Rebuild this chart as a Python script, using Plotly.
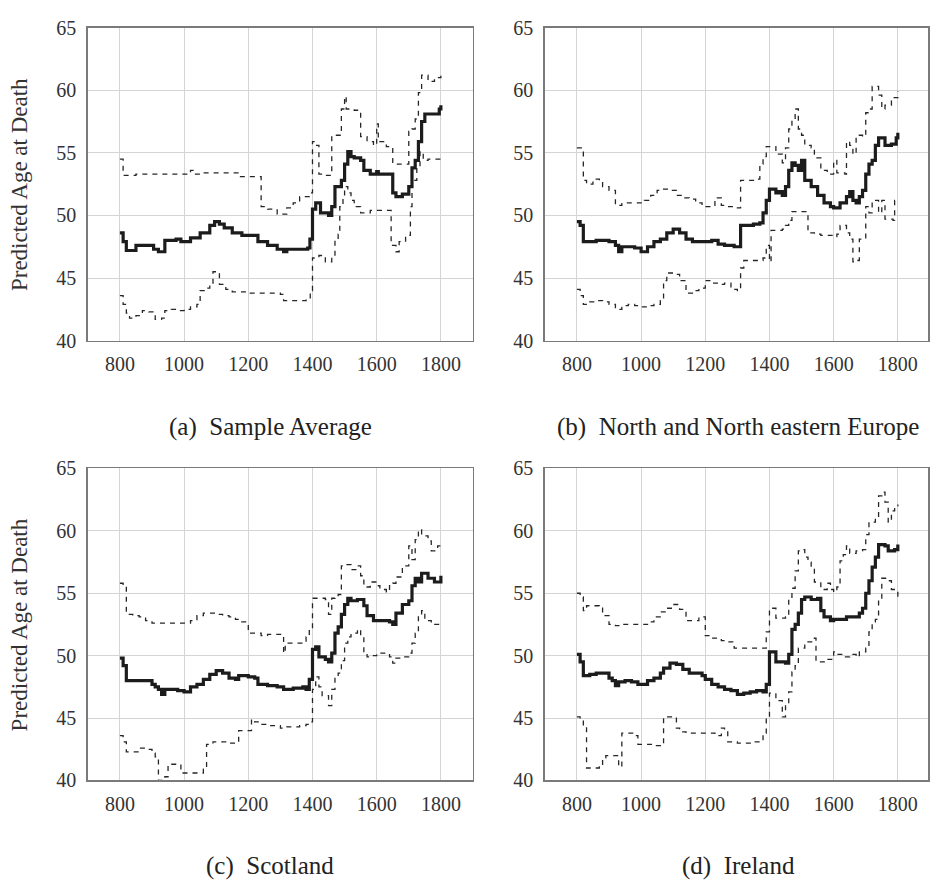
import plotly.graph_objects as go

# ---------------- data (year, predicted age at death) ----------------
panel_titles = ["(a)  Sample Average", "(b)  North and North eastern Europe",
                "(c)  Scotland", "(d)  Ireland"]
x_ticks = [800, 1000, 1200, 1400, 1600, 1800]
y_ticks = [40, 45, 50, 55, 60, 65]
y_label = "Predicted Age at Death"

a_mean = [(800,48.6),(810,47.9),(820,47.2),(850,47.6),(905,47.3),(920,47.1),(940,48.0),(975,48.1),(990,47.9),
          (1020,48.2),(1050,48.6),(1080,49.2),(1095,49.5),(1110,49.3),(1125,49.0),(1150,48.6),(1180,48.4),(1220,48.4),
          (1230,47.9),(1260,47.6),(1290,47.3),(1310,47.1),(1320,47.3),(1385,47.4),(1392,48.1),(1400,50.5),(1410,51.0),
          (1425,50.2),(1450,50.0),(1460,50.7),(1470,52.3),(1490,52.8),(1500,54.1),(1510,55.1),(1520,54.7),(1530,54.6),
          (1550,54.4),(1560,53.6),(1580,53.3),(1600,53.5),(1605,53.3),(1645,53.3),(1650,51.8),(1660,51.5),(1680,51.7),
          (1700,52.3),(1710,53.8),(1720,54.4),(1730,55.9),(1740,57.5),(1750,58.1),(1785,58.1),(1795,58.5),(1800,58.8)]
a_upper = [(800,54.5),(810,53.2),(850,53.3),(1020,53.6),(1030,53.3),(1050,53.4),(1150,53.4),(1170,53.1),(1235,53.1),
           (1240,50.7),(1260,50.5),(1290,50.1),(1320,50.6),(1340,51.0),(1360,51.5),(1390,51.8),(1400,55.9),(1410,55.6),
           (1420,53.3),(1440,53.2),(1460,56.4),(1480,56.4),(1490,58.5),(1500,59.5),(1505,58.5),(1530,58.4),(1550,56.3),
           (1570,55.9),(1590,55.6),(1600,57.3),(1605,55.9),(1630,55.5),(1645,55.4),(1650,54.1),(1695,54.1),(1700,56.7),
           (1710,56.9),(1720,57.7),(1730,59.8),(1740,61.2),(1760,60.7),(1780,61.0),(1800,61.5)]
a_lower = [(800,43.6),(810,42.9),(820,42.2),(830,41.8),(850,42.0),(870,42.4),(890,42.3),(910,41.7),(930,41.8),
           (940,42.4),(960,42.5),(980,42.4),(1000,42.5),(1020,42.7),(1040,42.9),(1050,44.0),(1070,44.2),(1080,44.5),
           (1090,45.5),(1100,45.4),(1110,44.5),(1130,44.1),(1150,43.9),(1200,43.8),(1280,43.8),(1300,43.7),(1310,43.2),
           (1380,43.3),(1393,44.0),(1400,46.6),(1420,46.8),(1440,46.3),(1460,46.7),(1470,48.1),(1480,48.5),(1485,50.7),
           (1495,51.5),(1500,52.3),(1510,51.8),(1520,51.2),(1530,50.7),(1550,50.2),(1580,50.4),(1640,50.4),(1645,47.6),
           (1660,47.1),(1670,47.9),(1690,48.4),(1705,50.7),(1710,52.8),(1725,53.8),(1735,55.1),(1745,54.4),(1760,54.5),(1800,54.4)]

b_mean = [(800,49.5),(810,49.2),(820,47.9),(860,48.0),(900,47.9),(920,47.6),(930,47.1),(940,47.5),(980,47.4),
          (1000,47.1),(1020,47.5),(1040,47.9),(1060,48.1),(1080,48.6),(1100,48.9),(1120,48.6),(1140,48.1),(1160,47.9),
          (1200,47.9),(1220,48.0),(1240,47.7),(1260,47.6),(1290,47.5),(1310,49.2),(1350,49.3),(1370,49.4),(1380,50.2),
          (1390,51.2),(1400,52.1),(1415,52.1),(1420,51.8),(1430,51.9),(1440,51.6),(1450,52.3),(1460,53.6),(1470,54.2),
          (1480,54.0),(1490,53.6),(1500,54.4),(1510,52.8),(1530,52.3),(1550,51.6),(1570,51.0),(1590,50.7),(1600,50.6),
          (1620,51.0),(1640,51.5),(1650,51.9),(1660,51.2),(1670,51.0),(1680,51.5),(1690,52.0),(1700,53.3),(1710,54.1),
          (1720,54.4),(1730,55.6),(1740,56.2),(1760,55.6),(1780,55.7),(1795,56.2),(1800,56.6)]
b_upper = [(800,55.4),(815,55.4),(820,52.8),(830,52.5),(850,52.9),(870,52.8),(880,52.3),(900,52.0),(920,50.8),
           (940,51.0),(990,51.0),(1010,51.2),(1030,51.6),(1050,52.0),(1070,52.1),(1090,52.0),(1110,51.6),(1130,51.4),
           (1150,51.3),(1170,51.0),(1190,50.7),(1210,50.7),(1230,51.4),(1250,50.8),(1270,50.7),(1300,50.6),(1310,52.8),
           (1360,52.9),(1370,54.1),(1380,54.7),(1390,55.5),(1410,55.5),(1420,54.9),(1440,54.2),(1450,55.4),(1460,56.9),
           (1470,57.7),(1480,58.5),(1490,56.9),(1500,56.4),(1510,55.6),(1530,55.4),(1540,54.6),(1560,53.6),(1580,53.3),
           (1600,54.4),(1610,53.4),(1635,53.3),(1640,55.9),(1650,55.6),(1660,54.9),(1670,56.4),(1690,56.3),(1700,58.2),
           (1710,58.5),(1720,60.3),(1740,59.6),(1750,58.5),(1760,58.8),(1780,59.4),(1800,59.9)]
b_lower = [(800,44.1),(810,43.6),(820,42.9),(840,43.1),(860,43.2),(880,43.1),(900,42.9),(920,42.5),(940,42.8),
           (960,42.9),(980,42.8),(1000,42.7),(1020,42.8),(1040,42.9),(1060,43.2),(1070,44.8),(1080,45.4),(1100,45.3),
           (1120,44.8),(1140,43.8),(1160,44.0),(1180,44.2),(1200,44.8),(1220,44.6),(1240,44.5),(1260,44.6),(1280,44.1),
           (1300,44.0),(1310,45.8),(1320,46.4),(1380,46.6),(1390,47.6),(1400,46.3),(1405,48.8),(1440,48.9),(1450,49.2),
           (1460,49.6),(1470,50.3),(1510,50.3),(1520,48.6),(1540,48.5),(1560,48.4),(1600,48.3),(1610,48.5),(1620,49.2),
           (1640,48.6),(1650,48.1),(1660,46.3),(1675,46.4),(1680,48.1),(1695,48.1),(1700,50.7),(1710,50.2),(1720,51.2),
           (1740,50.2),(1750,51.2),(1760,49.7),(1785,49.6),(1790,51.2),(1800,51.2)]

c_mean = [(800,49.8),(810,49.2),(820,48.0),(880,48.0),(900,47.7),(910,47.5),(920,47.3),(930,46.9),(940,47.3),
          (960,47.3),(980,47.2),(1000,47.1),(1020,47.5),(1040,47.7),(1060,48.1),(1080,48.5),(1100,48.8),(1120,48.6),
          (1140,48.2),(1160,48.1),(1170,48.4),(1200,48.3),(1220,48.2),(1230,47.7),(1260,47.6),(1290,47.5),(1310,47.3),
          (1340,47.4),(1370,47.5),(1380,47.3),(1390,48.1),(1400,50.5),(1410,50.7),(1420,49.9),(1440,49.7),(1450,49.5),
          (1460,50.2),(1470,51.8),(1480,52.3),(1490,53.3),(1500,54.1),(1510,54.6),(1520,54.4),(1540,54.5),(1560,54.0),
          (1570,53.2),(1590,52.8),(1640,52.7),(1650,52.5),(1660,53.4),(1680,54.1),(1700,54.4),(1710,55.6),(1720,56.2),
          (1730,55.9),(1740,56.6),(1760,56.2),(1780,55.9),(1800,56.4)]
c_upper = [(800,55.8),(810,55.6),(820,53.3),(840,53.2),(860,53.1),(880,52.8),(900,52.6),(1000,52.6),(1020,52.8),
           (1040,53.2),(1060,53.4),(1100,53.3),(1120,53.2),(1140,53.1),(1160,52.9),(1180,52.7),(1200,51.8),(1240,51.6),
           (1260,51.7),(1305,51.7),(1310,50.2),(1315,51.0),(1380,51.5),(1390,52.0),(1400,54.6),(1440,54.5),(1450,53.3),
           (1460,54.6),(1470,54.7),(1480,54.9),(1490,57.2),(1500,57.3),(1520,56.9),(1540,57.2),(1550,56.4),(1560,55.6),
           (1570,55.5),(1580,55.9),(1600,55.6),(1610,55.3),(1630,55.1),(1640,55.6),(1650,55.8),(1660,56.3),(1680,57.2),
           (1700,58.8),(1710,57.7),(1720,59.3),(1730,60.1),(1740,59.6),(1760,59.2),(1770,58.4),(1790,58.8),(1800,59.0)]
c_lower = [(800,43.6),(810,43.1),(820,42.3),(840,42.3),(860,42.6),(880,42.5),(900,42.2),(910,41.9),(920,40.0),
           (940,40.3),(950,41.3),(970,41.3),(990,40.6),(1060,40.9),(1070,42.9),(1090,43.1),(1140,43.0),(1160,43.1),
           (1170,44.0),(1200,44.0),(1210,44.9),(1220,44.7),(1240,44.5),(1260,44.4),(1280,44.4),(1300,44.2),(1320,44.3),
           (1360,44.4),(1380,44.5),(1390,44.7),(1400,47.3),(1410,48.3),(1420,47.5),(1430,46.8),(1450,46.0),(1460,47.3),
           (1470,48.3),(1480,48.6),(1490,49.6),(1500,51.0),(1510,51.5),(1520,51.8),(1540,52.1),(1550,51.5),(1560,50.2),
           (1570,49.9),(1590,50.0),(1600,50.2),(1640,49.9),(1650,49.4),(1660,49.8),(1680,49.9),(1700,50.2),(1710,51.0),
           (1720,51.8),(1730,53.3),(1740,53.6),(1750,52.8),(1770,52.5),(1800,52.4)]

d_mean = [(800,50.1),(810,49.5),(820,48.4),(840,48.5),(860,48.6),(880,48.6),(900,48.2),(910,48.0),(920,47.6),
          (930,47.9),(950,48.0),(970,47.9),(990,47.7),(1010,47.7),(1020,48.0),(1040,48.2),(1060,48.6),(1070,49.0),
          (1090,49.4),(1110,49.3),(1130,48.9),(1150,48.6),(1180,48.6),(1190,48.4),(1200,48.1),(1220,47.7),(1240,47.5),
          (1260,47.3),(1280,47.2),(1300,46.9),(1320,47.0),(1340,47.1),(1360,47.2),(1380,47.1),(1390,47.7),(1400,50.3),
          (1415,50.3),(1420,49.5),(1450,49.4),(1460,50.1),(1470,52.1),(1480,52.5),(1490,53.4),(1500,54.5),(1510,54.7),
          (1530,54.5),(1550,54.6),(1560,53.6),(1570,53.1),(1590,52.8),(1600,52.9),(1640,53.1),(1680,53.4),(1690,53.8),
          (1700,55.0),(1710,56.0),(1720,57.1),(1730,57.9),(1740,58.9),(1760,58.8),(1770,58.4),(1790,58.5),(1800,58.9)]
d_upper = [(800,55.0),(810,54.7),(820,53.6),(830,54.0),(850,54.0),(870,53.8),(880,53.2),(900,52.5),(920,52.4),
           (940,52.5),(1000,52.5),(1020,52.7),(1040,53.1),(1060,53.5),(1080,53.8),(1100,54.1),(1120,53.7),(1140,52.8),
           (1160,52.8),(1180,53.1),(1200,51.6),(1220,51.4),(1250,51.2),(1270,51.1),(1290,50.6),(1380,50.6),(1390,51.9),
           (1400,53.8),(1410,53.8),(1420,53.0),(1440,53.0),(1450,53.1),(1460,54.5),(1470,55.4),(1480,56.8),(1490,58.4),
           (1500,58.5),(1510,57.9),(1520,57.5),(1530,57.1),(1540,55.9),(1560,55.3),(1580,55.8),(1590,55.3),(1600,55.1),
           (1610,55.5),(1620,57.6),(1630,58.1),(1640,58.8),(1650,58.2),(1670,58.4),(1690,58.5),(1700,59.7),(1710,60.7),
           (1730,61.0),(1740,62.8),(1750,63.1),(1760,62.3),(1770,60.7),(1780,61.6),(1790,62.0),(1800,62.1)]
d_lower = [(800,45.1),(810,44.9),(820,44.4),(830,41.0),(870,41.1),(880,41.8),(890,42.0),(920,42.0),(930,41.1),
           (940,43.8),(960,43.8),(980,43.6),(990,42.9),(1040,42.8),(1060,42.9),(1070,45.1),(1100,45.1),(1110,44.2),
           (1120,43.9),(1140,43.8),(1230,43.6),(1250,44.2),(1260,43.9),(1270,43.1),(1300,43.0),(1320,43.0),(1340,43.1),
           (1370,43.1),(1380,43.8),(1390,45.1),(1400,47.0),(1410,47.0),(1420,46.4),(1430,46.4),(1440,45.1),(1450,46.1),
           (1460,47.1),(1470,48.7),(1480,49.2),(1490,50.6),(1510,51.1),(1540,51.4),(1545,49.5),(1580,49.7),(1600,50.3),
           (1610,50.1),(1630,49.9),(1650,50.1),(1670,49.9),(1680,50.3),(1700,50.6),(1710,51.9),(1720,52.7),(1730,52.9),
           (1740,54.5),(1750,56.2),(1770,56.0),(1780,55.3),(1800,54.7)]

panels = [(a_mean, a_upper, a_lower), (b_mean, b_upper, b_lower),
          (c_mean, c_upper, c_lower), (d_mean, d_upper, d_lower)]

# ---------------- layout geometry (pixel positions measured on the reference) ----------------
W, H = 930, 890


def px_x(v):
    return v / W


def px_y(v):
    return 1 - v / H


x_domains = [(px_x(88), px_x(474)), (px_x(546), 1.0), (px_x(88), px_x(474)), (px_x(546), 1.0)]
x_ranges = [[700, 1900], [700, 1894], [700, 1900], [700, 1894]]
y_domains = [(px_y(338), px_y(17)), (px_y(338), px_y(17)),
             (px_y(789), px_y(469)), (px_y(789), px_y(469))]
caption_x = [271, 740, 271, 740]
caption_y = [427, 427, 877, 877]

FONT = "Liberation Serif, DejaVu Serif, serif"
fig = go.Figure()

for i, (mean, upper, lower) in enumerate(panels):
    n = "" if i == 0 else str(i + 1)
    for series, style in ((upper, "dash"), (lower, "dash"), (mean, "solid")):
        xs = [p[0] for p in series]
        ys = [p[1] for p in series]
        if style == "solid":
            line = dict(color="#1c1c1c", width=3.2, shape="hv")
        else:
            line = dict(color="#262626", width=1.3, dash="5px,5px", shape="hv")
        fig.add_trace(go.Scatter(x=xs, y=ys, mode="lines", line=line,
                                 xaxis="x" + n, yaxis="y" + n, showlegend=False,
                                 hoverinfo="skip"))
    common = dict(showgrid=True, gridcolor="#d4d4d4", gridwidth=1, zeroline=False,
                  showline=True, mirror=True, linecolor="#7a7a7a", linewidth=1.5,
                  ticks="", tickfont=dict(family=FONT, size=20, color="#333333"))
    fig.layout["xaxis" + n] = dict(common, domain=list(x_domains[i]), range=x_ranges[i],
                                   tickvals=x_ticks, anchor="y" + n, ticklabelstandoff=5)
    fig.layout["yaxis" + n] = dict(common, domain=list(y_domains[i]), range=[40, 65],
                                   tickvals=y_ticks, anchor="x" + n, ticklabelstandoff=6)
    fig.add_annotation(text=panel_titles[i], xref="paper", yref="paper",
                       x=px_x(caption_x[i]), y=px_y(caption_y[i]), showarrow=False,
                       xanchor="center", yanchor="middle",
                       font=dict(family=FONT, size=25, color="#222222"))
    if i % 2 == 0:
        yc = (y_domains[i][0] + y_domains[i][1]) / 2
        fig.add_annotation(text=y_label, xref="paper", yref="paper",
                           x=px_x(19), y=yc, textangle=-90, showarrow=False,
                           xanchor="center", yanchor="middle",
                           font=dict(family=FONT, size=23, color="#333333"))

fig.update_layout(width=W, height=H, margin=dict(l=0, r=0, t=0, b=0),
                  paper_bgcolor="white", plot_bgcolor="white", hovermode=False)
fig.write_html("out.html", config={"displayModeBar": False, "staticPlot": True},
               post_script="document.body.style.margin='0px';document.body.style.overflow='hidden';")
